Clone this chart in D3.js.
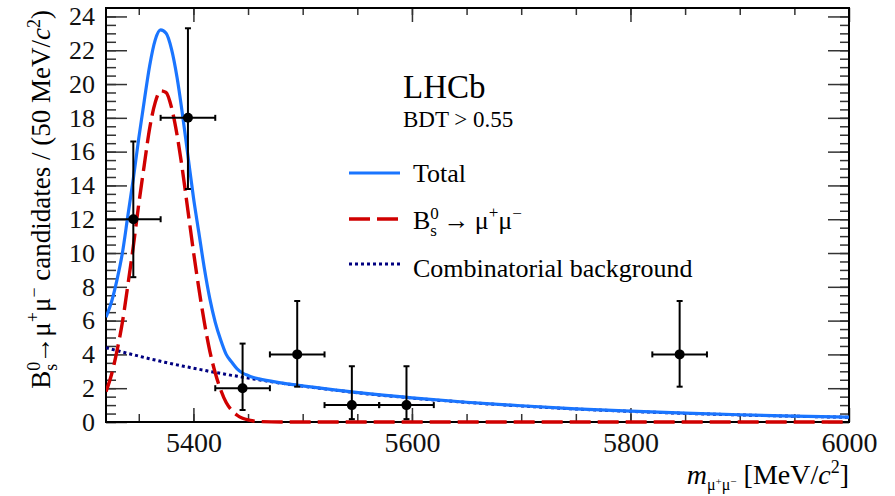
<!DOCTYPE html>
<html>
<head>
<meta charset="utf-8">
<script src="https://cdn.jsdelivr.net/npm/d3@7"></script>
<style>
body{margin:0;background:#fff;}
svg{display:block;font-family:"Liberation Serif","Times New Roman",serif;}
</style>
</head>
<body>
<div id="plot"></div>
<script>
// fit curves (candidates / 50 MeV/c2)
var massGrid = [5320,5325,5330,5335,5340,5345,5350,5355,5360,5365,5370,5375,5380,5385,5390,
                5395,5400,5405,5410,5415,5420,5425,5430,5435,5440,5445,5450,5455,5460,
                5480,5520,5560,5600,5650,5700,5750,5800,5850,5900,5950,6000];
var totalFit = [6.2,7.1,8.4,10.0,12.2,14.4,16.8,19.0,21.1,22.6,23.2,23.0,22.05,20.4,18.2,
                15.75,13.3,11.2,9.1,7.3,5.9,4.85,4.0,3.55,3.15,2.9,2.75,2.63,2.55,
                2.32,1.98,1.68,1.43,1.17,0.96,0.78,0.64,0.52,0.43,0.35,0.29];
var signalFit = [1.8,2.8,4.2,5.9,8.1,10.4,12.9,15.2,17.4,18.9,19.6,19.5,18.6,17.0,14.9,
                 12.5,10.1,7.9,5.9,4.2,2.9,1.9,1.15,0.7,0.4,0.22,0.12,0.06,0.03,
                 0,0,0,0,0,0,0,0,0,0,0,0];
var combBkg = [4.40,4.31,4.23,4.14,4.06,3.98,3.90,3.82,3.74,3.67,3.59,3.52,3.45,3.38,3.31,
               3.25,3.18,3.12,3.06,2.99,2.94,2.88,2.82,2.76,2.71,2.65,2.60,2.55,2.50,
               2.30,1.96,1.66,1.42,1.16,0.95,0.77,0.63,0.51,0.42,0.34,0.28];

// data points with asymmetric (poisson) errors
var binCenters = [5345,5395,5445,5495,5545,5595,5845];
var counts = [12,18,2,4,1,1,4];
var errLow = [8.57,13.79,0.71,2.09,0.17,0.17,2.09];
var errHigh = [16.6,23.3,4.64,7.16,3.30,3.30,7.16];
var binHalf = 25;

var xTickLabels = [5400,5600,5800,6000];
var yTickLabels = [0,2,4,6,8,10,12,14,16,18,20,22,24];

var margin = {t:8,r:46,b:74,l:106};
var W = 895, H = 496;
var width = W-margin.l-margin.r,
    height = H-margin.t-margin.b;

var svg = d3.select('#plot')
    .append('svg')
    .attr('width',W)
    .attr('height',H);

var plot = svg.append('g')
    .attr('class','plot')
    .attr('transform','translate('+margin.l+','+margin.t+')');

var x = d3.scaleLinear().domain([5320,6000]).range([0,width]);
var y = d3.scaleLinear().domain([0,24.5]).range([height,0]);

svg.append('defs').append('clipPath').attr('id','clip')
    .append('rect').attr('x',0).attr('y',-2).attr('width',width).attr('height',height+4);

// axes, ticks on all four sides pointing inwards
var xMinor = d3.range(5350,6000,50);
var yMinor = d3.range(0,24.5,0.5);

function clean(g){
    g.select('.domain').remove();
    g.attr('font-family',null).attr('font-size',null);
}

plot.append('g').attr('transform','translate(0,'+height+')')
    .call(d3.axisBottom(x).tickValues(xMinor).tickSize(-8).tickFormat(''))
    .call(clean);
plot.append('g').attr('class','xlab').attr('transform','translate(0,'+height+')')
    .call(d3.axisBottom(x).tickValues(xTickLabels).tickSize(-14).tickPadding(10).tickFormat(d3.format('d')))
    .call(clean);
plot.append('g')
    .call(d3.axisTop(x).tickValues(xMinor).tickSize(-7).tickFormat(''))
    .call(clean);
plot.append('g')
    .call(d3.axisTop(x).tickValues(xTickLabels).tickSize(-14).tickFormat(''))
    .call(clean);

plot.append('g')
    .call(d3.axisLeft(y).tickValues(yMinor).tickSize(-10).tickFormat(''))
    .call(clean);
plot.append('g').attr('class','ylab')
    .call(d3.axisLeft(y).tickValues(yTickLabels).tickSize(-21).tickPadding(11).tickFormat(d3.format('d')))
    .call(clean);
plot.append('g').attr('transform','translate('+width+',0)')
    .call(d3.axisRight(y).tickValues(yMinor).tickSize(-9).tickFormat(''))
    .call(clean);
plot.append('g').attr('transform','translate('+width+',0)')
    .call(d3.axisRight(y).tickValues(yTickLabels).tickSize(-21).tickFormat(''))
    .call(clean);

plot.selectAll('.tick line').attr('stroke','#333').attr('stroke-width',1.5);
plot.selectAll('.xlab .tick text').attr('fill','#111').attr('font-size',28);
plot.selectAll('.ylab .tick text').attr('fill','#111').attr('font-size',26);

plot.append('rect')
    .attr('width',width).attr('height',height)
    .attr('fill','none').attr('stroke','#000').attr('stroke-width',2);

// curves
var line = function(vals){
    return d3.line()
        .x(function(d,i){return x(massGrid[i]);})
        .y(function(d){return y(d);})
        .curve(d3.curveMonotoneX)(vals);
};
var curves = plot.append('g').attr('clip-path','url(#clip)');

curves.append('path').attr('d',line(combBkg))
    .attr('fill','none').attr('stroke','#000080').attr('stroke-width',3).attr('stroke-dasharray','3,3');
curves.append('path').attr('d',line(totalFit))
    .attr('fill','none').attr('stroke','#1a75ff').attr('stroke-width',3.2);
curves.append('path').attr('d',line(signalFit))
    .attr('fill','none').attr('stroke','#d00000').attr('stroke-width',3.4).attr('stroke-dasharray','21,7');

// data points
var pts = plot.append('g');
binCenters.forEach(function(c,i){
    var cx = x(c), cy = y(counts[i]);
    var x0 = x(c-binHalf), x1 = x(c+binHalf);
    var y0 = y(errLow[i]), y1 = y(errHigh[i]);
    var st = function(s){return s.attr('stroke','#000').attr('stroke-width',2);};
    st(pts.append('line').attr('x1',x0).attr('x2',x1).attr('y1',cy).attr('y2',cy));
    st(pts.append('line').attr('x1',cx).attr('x2',cx).attr('y1',y0).attr('y2',y1));
    st(pts.append('line').attr('x1',cx-3).attr('x2',cx+3).attr('y1',y0).attr('y2',y0));
    st(pts.append('line').attr('x1',cx-3).attr('x2',cx+3).attr('y1',y1).attr('y2',y1));
    st(pts.append('line').attr('x1',x0).attr('x2',x0).attr('y1',cy-3).attr('y2',cy+3));
    st(pts.append('line').attr('x1',x1).attr('x2',x1).attr('y1',cy-3).attr('y2',cy+3));
    pts.append('circle').attr('cx',cx).attr('cy',cy).attr('r',5).attr('fill','#000');
});

// labels
svg.append('text').attr('x',403).attr('y',98).style('font-size','33px').text('LHCb');
svg.append('text').attr('x',403).attr('y',127).style('font-size','23px').text('BDT > 0.55');

var leg = svg.append('g');
leg.append('line').attr('x1',349).attr('x2',400).attr('y1',173).attr('y2',173)
    .attr('stroke','#1a75ff').attr('stroke-width',3.2);
leg.append('line').attr('x1',349).attr('x2',400).attr('y1',219).attr('y2',219)
    .attr('stroke','#d00000').attr('stroke-width',3.4).attr('stroke-dasharray','21,7');
leg.append('line').attr('x1',349).attr('x2',400).attr('y1',264).attr('y2',264)
    .attr('stroke','#000080').attr('stroke-width',3).attr('stroke-dasharray','3,3');

leg.append('text').attr('x',413).attr('y',182).style('font-size','26px').text('Total');
var sig = leg.append('text').attr('x',413).attr('y',229).style('font-size','26px');
sig.append('tspan').text('B');
sig.append('tspan').attr('dy',-10).style('font-size','17px').text('0');
sig.append('tspan').attr('dx',-8.5).attr('dy',17).style('font-size','17px').text('s');
sig.append('tspan').attr('dy',-7).text(' \u2192\u2009\u03bc');
sig.append('tspan').attr('dy',-11).style('font-size','17px').text('+');
sig.append('tspan').attr('dy',11).text('\u03bc');
sig.append('tspan').attr('dy',-10).style('font-size','17px').text('\u2212');
leg.append('text').attr('x',413).attr('y',277).style('font-size','26px').text('Combinatorial background');

// y axis title
var yt = svg.append('text')
    .attr('transform','translate(50,10) rotate(-90)')
    .attr('text-anchor','end')
    .style('font-size','27px');
yt.append('tspan').text('B');
yt.append('tspan').attr('dy',-10).style('font-size','18px').text('0');
yt.append('tspan').attr('dx',-9).attr('dy',17).style('font-size','18px').text('s');
yt.append('tspan').attr('dy',-7).text('\u2192\u03bc');
yt.append('tspan').attr('dy',-11).style('font-size','18px').text('+');
yt.append('tspan').attr('dy',11).text('\u03bc');
yt.append('tspan').attr('dy',-10).style('font-size','18px').text('\u2212');
yt.append('tspan').attr('dy',10).text(' candidates / (50 MeV/');
yt.append('tspan').style('font-style','italic').text('c');
yt.append('tspan').attr('dy',-10).style('font-size','18px').text('2');
yt.append('tspan').attr('dy',10).text(')');

// x axis title
var xt = svg.append('text')
    .attr('x',849).attr('y',484)
    .attr('text-anchor','end')
    .style('font-size','28px');
xt.append('tspan').style('font-style','italic').text('m');
xt.append('tspan').attr('dy',6).style('font-size','16px').text('\u03bc');
xt.append('tspan').attr('dy',-5).style('font-size','11px').text('+');
xt.append('tspan').attr('dy',5).style('font-size','16px').text('\u03bc');
xt.append('tspan').attr('dy',-5).style('font-size','11px').text('\u2212');
xt.append('tspan').attr('dy',-1).text(' [MeV/');
xt.append('tspan').style('font-style','italic').text('c');
xt.append('tspan').attr('dy',-11).style('font-size','18px').text('2');
xt.append('tspan').attr('dy',11).text(']');
</script>
</body>
</html>
